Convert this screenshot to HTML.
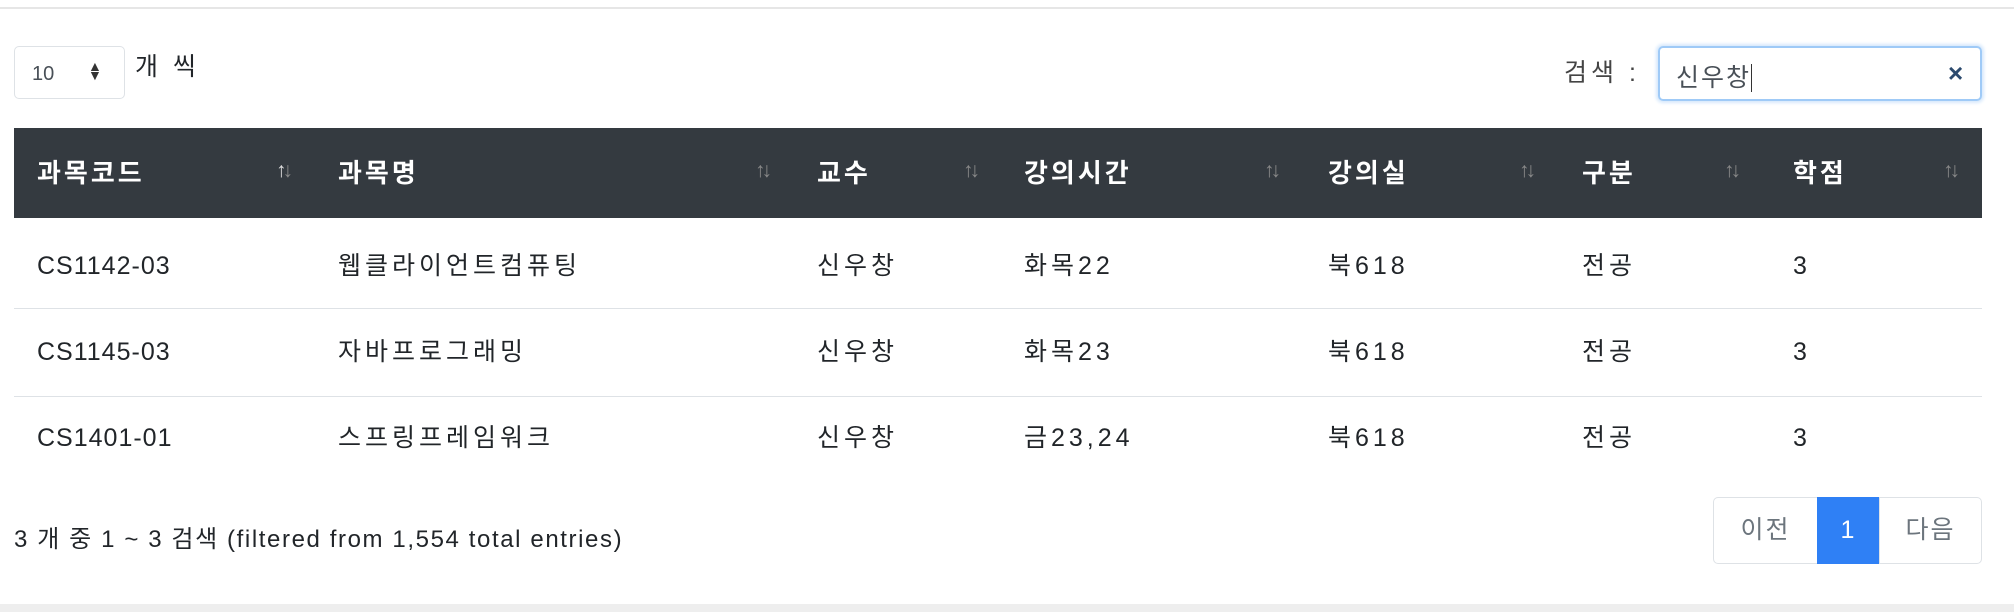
<!DOCTYPE html>
<html><head><meta charset="utf-8"><style>
body{margin:0;width:2014px;height:612px;background:#fff;position:relative;overflow:hidden;font-family:"Liberation Sans","Noto Sans CJK KR",sans-serif;color:#212529}
.a{position:absolute;white-space:nowrap}
.top{left:0;top:7px;width:2014px;height:2px;background:#e6e6e6}
.bot{left:0;top:604px;width:2014px;height:8px;background:#eee}
.sel{left:14px;top:46px;width:111px;height:53px;border:1px solid #dee2e6;border-radius:5px;box-sizing:border-box}
.sel span{position:absolute;left:17px;top:16px;font-size:20px;color:#495057}
.sel i{position:absolute;left:73px;top:15px;font-style:normal;font-size:14px;line-height:9px;color:#333}
.hdr{left:14px;top:128px;width:1968px;height:90px;background:#343a40}
.th{top:128px;height:90px;line-height:90px;color:#fff;font-weight:bold;font-size:26px;letter-spacing:3px}
.ar{top:128px;height:90px;line-height:86px;color:#888;font-size:21px;letter-spacing:-4px}
.ar b{color:#ddd;font-weight:normal}
.td{font-size:25px;line-height:30px;color:#212529;letter-spacing:1px}
.k{letter-spacing:4px}
.sep{left:14px;width:1968px;height:1px;background:#dee2e6}
.inp{left:1658px;top:46px;width:324px;height:55px;border:2px solid #9fcaf7;border-radius:5px;box-sizing:border-box;box-shadow:0 0 3px 2px #d6e8fc}
.pg{top:497px;height:67px;border:1px solid #dee2e6;box-sizing:border-box;line-height:65px;text-align:center;font-size:25px;color:#6c757d;letter-spacing:2px}
</style></head><body>
<div class="a top"></div>
<div class="a sel"><span>10</span><i>▲<br>▼</i></div>
<div class="a td k" style="left:135px;top:52px">개 씩</div>
<div class="a td k" style="left:1564px;top:58px;color:#444">검색 :</div>
<div class="a inp">
<span class="a" style="left:16px;top:10px;font-size:25px;letter-spacing:2px;color:#495057">신우창<span style="border-left:1px solid #333;margin-left:0px"></span></span>
<span class="a" style="left:288px;top:10px;font-size:26px;font-weight:bold;color:#2c4a6e">×</span></div>
<div class="a hdr"></div>
<div class="a th" style="left:37px">과목코드</div>
<div class="a th" style="left:338px">과목명</div>
<div class="a th" style="left:817px">교수</div>
<div class="a th" style="left:1024px">강의시간</div>
<div class="a th" style="left:1328px">강의실</div>
<div class="a th" style="left:1582px">구분</div>
<div class="a th" style="left:1793px">학점</div>
<div class="a ar" style="left:276px"><b>↑</b>↓</div>
<div class="a ar" style="left:755px">↑↓</div>
<div class="a ar" style="left:963px">↑↓</div>
<div class="a ar" style="left:1264px">↑↓</div>
<div class="a ar" style="left:1519px">↑↓</div>
<div class="a ar" style="left:1724px">↑↓</div>
<div class="a ar" style="left:1943px">↑↓</div>

<div class="a td" style="left:37px;top:251px">CS1142-03</div>
<div class="a td k" style="left:338px;top:251px">웹클라이언트컴퓨팅</div>
<div class="a td k" style="left:817px;top:251px">신우창</div>
<div class="a td k" style="left:1024px;top:251px">화목22</div>
<div class="a td k" style="left:1328px;top:251px">북618</div>
<div class="a td k" style="left:1582px;top:251px">전공</div>
<div class="a td" style="left:1793px;top:251px">3</div>
<div class="a sep" style="top:308px"></div>
<div class="a td" style="left:37px;top:337px">CS1145-03</div>
<div class="a td k" style="left:338px;top:337px">자바프로그래밍</div>
<div class="a td k" style="left:817px;top:337px">신우창</div>
<div class="a td k" style="left:1024px;top:337px">화목23</div>
<div class="a td k" style="left:1328px;top:337px">북618</div>
<div class="a td k" style="left:1582px;top:337px">전공</div>
<div class="a td" style="left:1793px;top:337px">3</div>
<div class="a sep" style="top:396px"></div>
<div class="a td" style="left:37px;top:423px">CS1401-01</div>
<div class="a td k" style="left:338px;top:423px">스프링프레임워크</div>
<div class="a td k" style="left:817px;top:423px">신우창</div>
<div class="a td k" style="left:1024px;top:423px">금23,24</div>
<div class="a td k" style="left:1328px;top:423px">북618</div>
<div class="a td k" style="left:1582px;top:423px">전공</div>
<div class="a td" style="left:1793px;top:423px">3</div>

<div class="a td" style="left:14px;top:525px;font-size:24px;letter-spacing:1.6px">3 개 중 1 ~ 3 검색 (filtered from 1,554 total entries)</div>
<div class="a pg" style="left:1713px;width:105px;border-radius:5px 0 0 5px">이전</div>
<div class="a pg" style="left:1817px;width:63px;background:#2f80f5;border-color:#2f80f5;color:#fff">1</div>
<div class="a pg" style="left:1879px;width:103px;border-radius:0 5px 5px 0">다음</div>
<div class="a bot"></div>
</body></html>
